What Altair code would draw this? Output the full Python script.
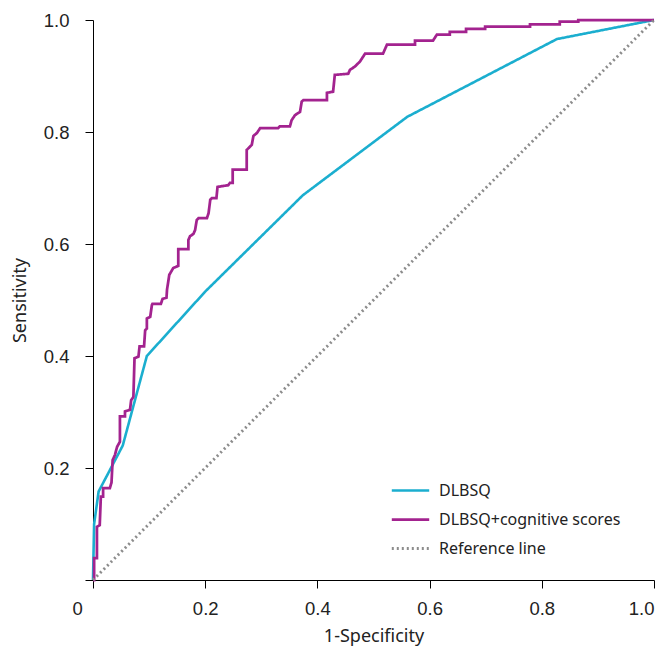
import altair as alt
import pandas as pd

series_names = ["DLBSQ", "DLBSQ+cognitive scores", "Reference line"]
series_colors = ["#1BAECF", "#A3238F", "#8C8C8C"]

dlbsq_fpr = [0.0, 0.002, 0.010, 0.053, 0.096, 0.200, 0.374, 0.560, 0.827, 1.0]
dlbsq_tpr = [0.0, 0.100, 0.158, 0.240, 0.400, 0.515, 0.687, 0.827, 0.966, 1.0]

combo_fpr = [0.0, 0.002, 0.002, 0.007, 0.007, 0.012, 0.014, 0.018, 0.018, 0.030,
             0.033, 0.035, 0.039, 0.043, 0.048, 0.048, 0.057, 0.057, 0.066, 0.068,
             0.072, 0.074, 0.081, 0.083, 0.091, 0.093, 0.096, 0.096, 0.102, 0.105,
             0.106, 0.121, 0.124, 0.131, 0.132, 0.136, 0.143, 0.152, 0.152, 0.170,
             0.170, 0.173, 0.179, 0.182, 0.185, 0.188, 0.203, 0.206, 0.209, 0.212,
             0.220, 0.222, 0.241, 0.244, 0.249, 0.249, 0.274, 0.274, 0.283, 0.286,
             0.292, 0.298, 0.330, 0.333, 0.351, 0.354, 0.360, 0.369, 0.372, 0.375,
             0.417, 0.417, 0.428, 0.431, 0.455, 0.458, 0.467, 0.476, 0.485, 0.517,
             0.524, 0.574, 0.574, 0.606, 0.613, 0.636, 0.636, 0.665, 0.665, 0.699,
             0.699, 0.779, 0.779, 0.832, 0.832, 0.865, 0.865, 1.0]
combo_tpr = [0.0, 0.0, 0.039, 0.039, 0.095, 0.098, 0.149, 0.149, 0.164, 0.164,
             0.174, 0.214, 0.223, 0.238, 0.247, 0.292, 0.292, 0.301, 0.304, 0.321,
             0.327, 0.396, 0.399, 0.417, 0.417, 0.446, 0.449, 0.467, 0.470, 0.491,
             0.493, 0.493, 0.502, 0.504, 0.519, 0.545, 0.557, 0.561, 0.591, 0.591,
             0.607, 0.614, 0.618, 0.625, 0.643, 0.646, 0.646, 0.655, 0.679, 0.682,
             0.682, 0.702, 0.705, 0.709, 0.709, 0.733, 0.733, 0.768, 0.777, 0.793,
             0.798, 0.807, 0.807, 0.810, 0.810, 0.821, 0.830, 0.836, 0.854, 0.857,
             0.857, 0.870, 0.872, 0.902, 0.904, 0.911, 0.917, 0.926, 0.940, 0.940,
             0.956, 0.956, 0.963, 0.963, 0.974, 0.974, 0.979, 0.979, 0.984, 0.984,
             0.988, 0.988, 0.992, 0.992, 0.997, 0.997, 1.0, 1.0]

ref_fpr = [0.0, 1.0]
ref_tpr = [0.0, 1.0]

axis_ticks = [0.0, 0.2, 0.4, 0.6, 0.8, 1.0]

rows = []
for name, xs, ys in zip(series_names,
                        [dlbsq_fpr, combo_fpr, ref_fpr],
                        [dlbsq_tpr, combo_tpr, ref_tpr]):
    for i, (xv, yv) in enumerate(zip(xs, ys)):
        rows.append({"series": name, "fpr": xv, "tpr": yv, "idx": i})
df = pd.DataFrame(rows)

FONT = "Noto Sans"
TICK_FONT = "Liberation Sans"

legend = alt.Legend(
    title=None, orient="none", legendX=297, legendY=450,
    symbolType="stroke", symbolSize=1400, labelFontSize=16, labelFont=FONT,
    labelColor="#222", labelOffset=8, rowPadding=-10, labelLimit=0,
)

chart = alt.Chart(df).mark_line().encode(
    x=alt.X("fpr:Q", title="1-Specificity",
            scale=alt.Scale(domain=[0, 1], nice=False),
            axis=alt.Axis(values=axis_ticks, grid=False,
                          labelExpr="datum.value == 0 ? '0' : format(datum.value, '.1f')",
                          labelOffset={"condition": {"test": "datum.value == 0", "value": -21}, "value": 0},
                          labelPadding=11, labelFontSize=18.5, labelFont=TICK_FONT, labelColor="#222",
                          tickSize=8, tickColor="#000", domainColor="#000",
                          titleFontSize=18, titleFont=FONT, titleFontWeight="normal", titleColor="#222",
                          titleX=280.5, titleY=56, titleBaseline="middle", titleAlign="center")),
    y=alt.Y("tpr:Q", title="Sensitivity",
            scale=alt.Scale(domain=[0, 1], nice=False),
            axis=alt.Axis(values=axis_ticks, grid=False,
                          labelExpr="datum.value == 0 ? '' : format(datum.value, '.1f')",
                          labelPadding=16, labelFontSize=18.5, labelFont=TICK_FONT, labelColor="#222",
                          tickSize=8, tickColor="#000", domainColor="#000",
                          titleFontSize=18, titleFont=FONT, titleFontWeight="normal", titleColor="#222",
                          titleX=-73, titleY=280, titleAngle=270, titleBaseline="middle", titleAlign="center")),
    color=alt.Color("series:N", scale=alt.Scale(domain=series_names, range=series_colors), legend=legend),
    strokeDash=alt.StrokeDash("series:N", scale=alt.Scale(domain=series_names, range=[[1, 0], [1, 0], [2, 3]]), legend=legend),
    strokeWidth=alt.StrokeWidth("series:N", scale=alt.Scale(domain=series_names, range=[2.6, 2.9, 1.0]), legend=legend),
    detail="series:N",
    order=alt.Order("idx:Q"),
).properties(
    width=561, height=560,
    autosize=alt.AutoSizeParams(type="none"),
    padding={"left": 85, "top": 12, "right": 4, "bottom": 67},
).configure_view(stroke=None)

chart.save("out.html", embed_options={"renderer": "svg", "actions": False})
